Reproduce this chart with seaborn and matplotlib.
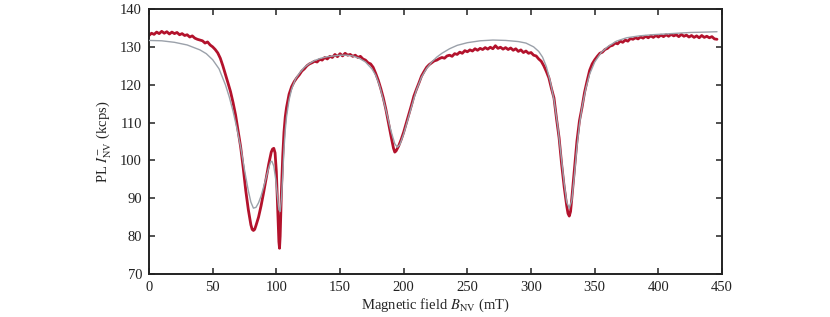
import numpy as np
import pandas as pd
import seaborn as sns
import matplotlib
matplotlib.use("Agg")
import matplotlib.pyplot as plt

# measured PL (red)
b_data = [0, 2, 4, 6, 8, 10, 12, 14, 16, 18, 20, 22, 24, 26, 28, 30, 32, 34, 36, 38,
          40, 42, 44, 46, 48, 50, 52, 54, 56, 58, 60, 62, 64, 66, 68, 70, 72, 74, 76, 78,
          80, 81, 82, 83, 84, 86, 88, 90, 92, 94, 96, 97, 98, 99, 100, 101, 102, 102.5, 103, 104,
          105, 106, 107, 108, 110, 112, 114, 116, 118, 120, 122, 124, 126, 128, 130, 132, 134, 136, 138, 140,
          142, 144, 146, 148, 150, 152, 154, 156, 158, 160, 162, 164, 166, 168, 170, 172, 174, 176, 178, 180,
          182, 184, 186, 188, 190, 192, 193, 194, 196, 198, 200, 202, 204, 206, 208, 210, 212, 214, 216, 218,
          220, 222, 224, 226, 228, 230, 232, 234, 236, 238, 240, 242, 244, 246, 248, 250, 252, 254, 256, 258,
          260, 262, 264, 266, 268, 270, 272, 274, 276, 278, 280, 282, 284, 286, 288, 290, 292, 294, 296, 298,
          300, 302, 304, 306, 308, 310, 312, 314, 316, 318, 320, 322, 324, 326, 328, 329, 330, 331, 332, 334,
          336, 338, 340, 342, 344, 346, 348, 350, 352, 354, 356, 358, 360, 362, 364, 366, 368, 370, 372, 374,
          376, 378, 380, 382, 384, 386, 388, 390, 392, 394, 396, 398, 400, 402, 404, 406, 408, 410, 412, 414,
          416, 418, 420, 422, 424, 426, 428, 430, 432, 434, 436, 438, 440, 442, 444, 446]
pl_data = [133.0, 133.6, 133.3, 133.9, 133.5, 134.1, 133.6, 134.0, 133.4, 133.9, 133.5, 133.8, 133.2, 133.5, 133.0, 133.2, 132.6, 132.9, 132.3, 132.0,
           131.8, 131.6, 131.0, 131.3, 130.5, 130.0, 129.3, 128.4, 127.0, 125.0, 122.8, 120.5, 118.2, 115.3, 112.0, 107.8, 103.5, 98.0, 92.0, 87.0,
           83.0, 81.8, 81.5, 81.8, 82.8, 85.0, 88.0, 91.5, 95.2, 99.0, 102.2, 103.0, 103.2, 102.0, 97.0, 88.0, 78.5, 76.8, 80.0, 92.0,
           101.0, 107.5, 111.5, 114.0, 117.5, 119.5, 120.8, 121.8, 122.6, 123.6, 124.2, 125.0, 125.5, 125.8, 126.2, 126.0, 126.7, 126.5, 127.2, 126.8,
           127.5, 127.2, 128.0, 127.4, 128.2, 127.6, 128.3, 127.8, 128.0, 127.5, 127.8, 127.2, 127.5, 126.8, 126.5, 125.8, 125.5, 124.6, 123.0, 121.2,
           119.0, 116.5, 113.5, 110.0, 106.5, 103.2, 102.2, 102.5, 103.8, 105.5, 107.5, 109.8, 112.0, 114.5, 117.0, 118.8, 120.5, 122.3, 123.5, 124.6,
           125.3, 125.8, 126.3, 126.5, 126.9, 127.2, 127.0, 127.6, 127.8, 127.5, 128.2, 128.0, 128.6, 128.3, 129.0, 128.7, 129.2, 128.9, 129.5, 129.1,
           129.6, 129.3, 129.8, 129.4, 129.9, 129.5, 130.3, 129.6, 129.9, 129.4, 129.8, 129.3, 129.7, 129.1, 129.5, 128.8, 129.2, 128.5, 128.9, 128.3,
           128.5, 127.8, 127.6, 126.8, 126.2, 125.0, 123.5, 121.8, 119.0, 116.5, 111.0, 106.0, 99.0, 93.0, 88.0, 86.0, 85.3, 86.5, 90.0, 97.5,
           105.0, 110.5, 114.0, 118.0, 121.0, 123.8, 125.5, 126.6, 127.5, 128.3, 128.6, 129.3, 129.6, 130.2, 130.4, 131.0, 130.8, 131.5, 131.2, 131.8,
           131.5, 132.2, 132.0, 132.4, 132.1, 132.6, 132.3, 132.8, 132.4, 132.9, 132.5, 133.0, 132.6, 133.1, 132.7, 133.2, 132.8, 133.3, 132.9, 133.2,
           132.7, 133.3, 132.8, 133.1, 132.6, 133.0, 132.5, 132.9, 132.4, 133.0, 132.5, 132.8, 132.4, 132.7, 132.1, 132.0]

# fit (gray)
b_fit = [0, 10, 20, 30, 40, 45, 50, 55, 60, 63, 66, 69, 72, 75, 78, 80, 82, 84, 86, 88,
         90, 92, 94, 95.5, 96.5, 98, 99.5, 101, 102, 103, 104, 105, 106, 107, 108, 110, 112, 115, 118, 122,
         126, 130, 135, 140, 145, 150, 155, 160, 165, 170, 175, 178, 181, 184, 187, 190, 193, 195, 197, 200,
         203, 206, 210, 214, 218, 222, 226, 230, 236, 242, 250, 260, 270, 280, 290, 296, 302, 306, 309, 312,
         315, 318, 321, 324, 326, 328, 330, 332, 334, 336, 338, 340, 343, 346, 350, 355, 360, 367, 375, 385,
         395, 410, 425, 437, 446]
pl_fit = [131.7, 131.6, 131.2, 130.5, 129.2, 128.2, 126.6, 124.2, 120.0, 116.8, 113.0, 108.5, 103.5, 97.5, 92.0, 89.0, 87.4, 87.6, 88.8, 90.6,
          93.0, 95.5, 98.0, 99.6, 99.8, 98.5, 95.0, 90.0, 87.0, 86.5, 90.0, 96.0, 103.0, 108.0, 111.5, 116.0, 118.8, 121.5, 123.0, 124.6,
          125.6, 126.4, 127.0, 127.4, 127.6, 127.8, 127.8, 127.6, 127.0, 126.0, 124.2, 122.5, 119.8, 116.0, 112.0, 107.8, 104.4, 103.5, 104.2, 107.0,
          110.5, 114.0, 118.6, 122.0, 124.3, 126.0, 127.3, 128.3, 129.5, 130.4, 131.1, 131.6, 131.8, 131.7, 131.4, 131.0, 130.0, 128.8, 127.3, 124.8,
          121.0, 116.0, 109.0, 100.0, 94.0, 89.0, 87.4, 89.5, 96.0, 103.5, 109.5, 114.0, 119.0, 122.8, 126.0, 128.5, 130.0, 131.5, 132.4, 132.9,
          133.2, 133.5, 133.8, 133.9, 134.0]

x_ticks = [0, 50, 100, 150, 200, 250, 300, 350, 400, 450]
y_ticks = [70, 80, 90, 100, 110, 120, 130, 140]

sns.set_style("ticks")
plt.rcParams["font.family"] = ["Liberation Serif", "DejaVu Serif"]
plt.rcParams["mathtext.fontset"] = "stix"

fig = plt.figure(figsize=(8.3, 3.17), dpi=100)
ax = fig.add_axes([0.1795, 0.1356, 0.6905, 0.836])

sns.lineplot(x=b_data, y=pl_data, ax=ax, color="#b3122c", linewidth=2.0, sort=False, zorder=2)
sns.lineplot(x=b_fit, y=pl_fit, ax=ax, color="#9ba1aa", linewidth=1.0, sort=False, zorder=3)

ax.set_xlim(0, 450)
ax.set_ylim(70, 140)
ax.set_xticks(x_ticks)
ax.set_yticks(y_ticks)
ax.tick_params(direction="in", length=4, width=1.1, top=True, right=True,
               labelsize=10.5, colors="#222222", pad=5)
for s in ax.spines.values():
    s.set_linewidth(1.4)
    s.set_color("#222222")
ax.set_xlabel(r"Magnetic field $B_{\rm NV}$ (mT)", fontsize=10.5, labelpad=2)
ax.set_ylabel(r"PL $I^{-}_{\rm NV}$ (kcps)", fontsize=10.5, labelpad=4)

fig.savefig("out.png", dpi=100)
